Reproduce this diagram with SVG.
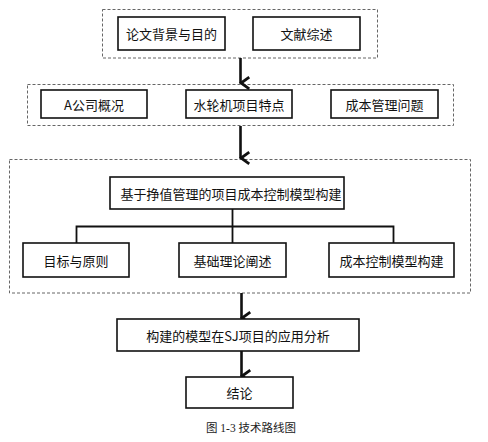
<svg xmlns="http://www.w3.org/2000/svg" width="488" height="442" viewBox="0 0 488 442">
<defs>
<style>
.grp{fill:none;stroke:#666;stroke-width:1;stroke-dasharray:3,2}
.box{fill:#fff;stroke:#111;stroke-width:1.6}
.t{font-family:"Noto Sans CJK SC","Liberation Sans",sans-serif;font-size:13px;fill:#111;text-anchor:middle;dominant-baseline:central}
.cap{font-family:"Liberation Serif","Noto Sans CJK SC",serif;font-size:11.5px;fill:#222;text-anchor:middle}
.ar{fill:none;stroke:#111;stroke-width:2.6}
.ln{fill:none;stroke:#111;stroke-width:1.8}
</style>
<marker id="v" markerWidth="14" markerHeight="12" refX="6" refY="9" orient="auto" markerUnits="userSpaceOnUse" viewBox="0 0 12 10">
<path d="M1,1.5 L6,8.5 L11,1.5" fill="none" stroke="#111" stroke-width="2.4"/>
</marker>
</defs>
<rect width="488" height="442" fill="#fff"/>
<g id="group1"><rect class="grp" x="102.5" y="9.5" width="275" height="48.5"/></g>
<g id="group2"><rect class="grp" x="27.5" y="84.5" width="426" height="41"/></g>
<g id="group3"><rect class="grp" x="9.5" y="159.5" width="461" height="133.5"/></g>
<g id="connectors">
<line class="ar" x1="240.5" y1="58" x2="240.5" y2="83" marker-end="url(#v)"/>
<line class="ar" x1="240.5" y1="126" x2="240.5" y2="158" marker-end="url(#v)"/>
<line class="ar" x1="241.5" y1="293" x2="241.5" y2="318" marker-end="url(#v)"/>
<line class="ar" x1="241.5" y1="351" x2="241.5" y2="376" marker-end="url(#v)"/>
<path class="ln" d="M232.5,209 V226.5 M76.5,243 V226.5 H393.5 V243 M232.5,226.5 V243"/>
</g>
<g id="n1"><rect class="box" x="118" y="17" width="107" height="33"/><text class="t" x="171.5" y="33.5">论文背景与目的</text></g>
<g id="n2"><rect class="box" x="253" y="17" width="107" height="33"/><text class="t" x="306.5" y="33.5">文献综述</text></g>
<g id="n3"><rect class="box" x="41" y="90" width="106" height="28"/><text class="t" x="94" y="104">A公司概况</text></g>
<g id="n4"><rect class="box" x="186" y="90" width="106" height="28"/><text class="t" x="239" y="104">水轮机项目特点</text></g>
<g id="n5"><rect class="box" x="331" y="90" width="107" height="28"/><text class="t" x="384.5" y="104">成本管理问题</text></g>
<g id="n6"><rect class="box" x="110" y="177" width="234" height="32"/><text class="t" x="231" y="193">基于挣值管理的项目成本控制模型构建</text></g>
<g id="n7"><rect class="box" x="23" y="243" width="106" height="34"/><text class="t" x="76" y="260">目标与原则</text></g>
<g id="n8"><rect class="box" x="179" y="243" width="107" height="34"/><text class="t" x="232.5" y="260">基础理论阐述</text></g>
<g id="n9"><rect class="box" x="329" y="243" width="125" height="34"/><text class="t" x="391.5" y="260">成本控制模型构建</text></g>
<g id="n10"><rect class="box" x="117" y="319" width="242" height="32"/><text class="t" x="238" y="335">构建的模型在SJ项目的应用分析</text></g>
<g id="n11"><rect class="box" x="186" y="377" width="107" height="31"/><text class="t" x="239.5" y="392.5">结论</text></g>
<text class="cap" x="251" y="432">图 1-3  技术路线图</text>
</svg>
